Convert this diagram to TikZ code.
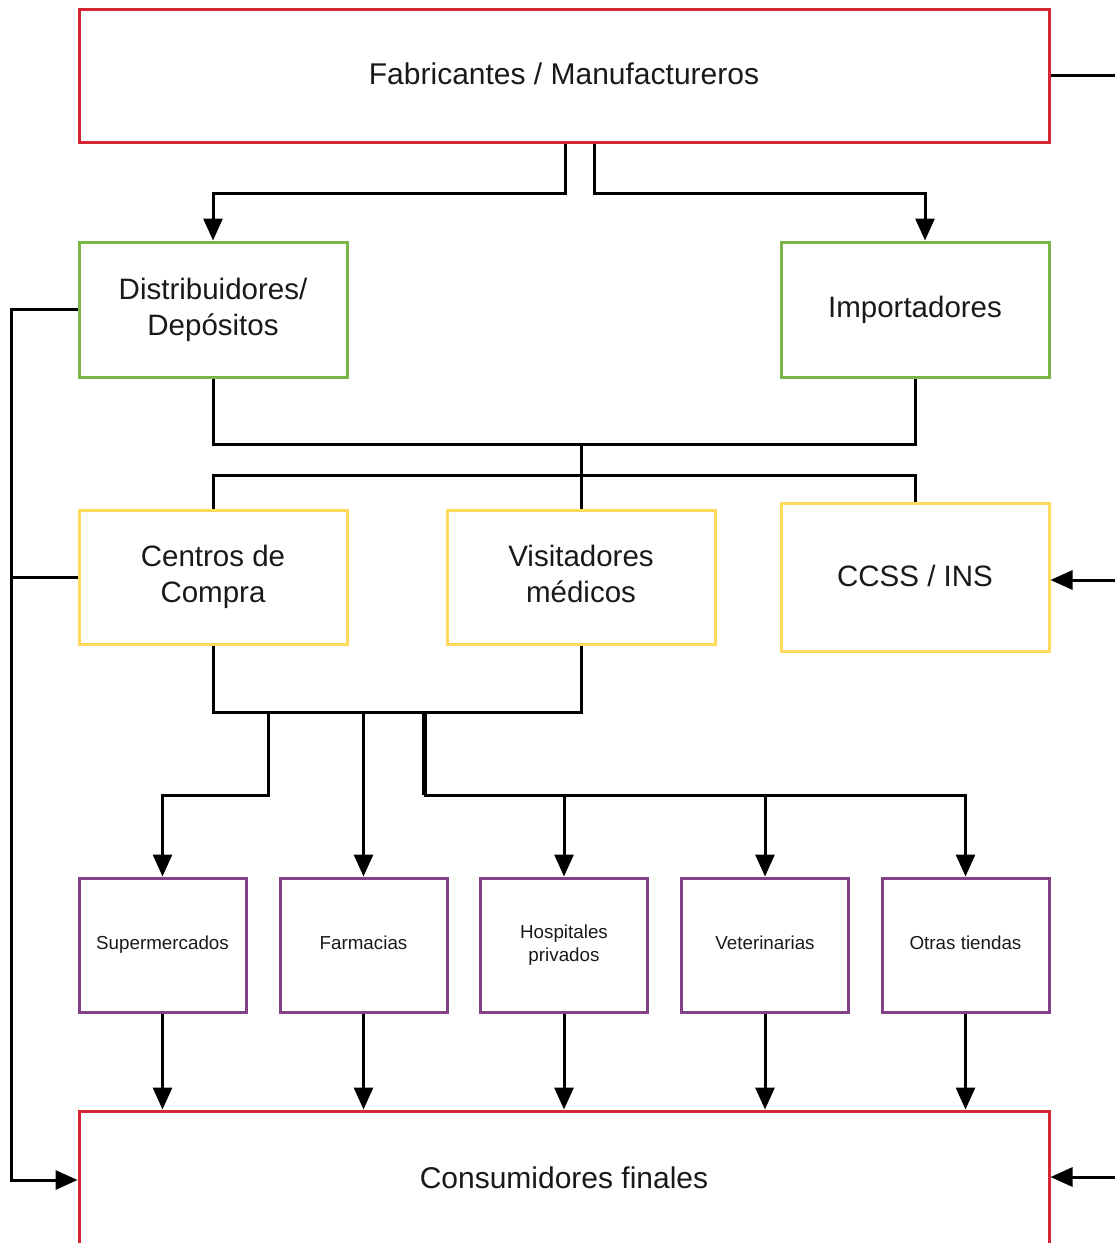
\documentclass[tikz,border=0pt]{standalone}
\usepackage{fontspec}
\setmainfont{Liberation Sans}
\usetikzlibrary{arrows.meta,calc}
\definecolor{cred}{RGB}{214,38,52}
\definecolor{cgreen}{RGB}{122,182,72}
\definecolor{cyellow}{RGB}{255,218,92}
\definecolor{cpurple}{RGB}{131,65,135}
\begin{document}
\begin{tikzpicture}[x=1pt,y=-1pt,
  box/.style={draw, line width=3pt, rectangle, align=center, inner sep=0pt, text=black!90},
  redbox/.style={box, draw=cred, font=\fontsize{30}{36}\selectfont},
  greenbox/.style={box, draw=cgreen, minimum width=268pt, minimum height=135pt, font=\fontsize{29.5}{36}\selectfont},
  yelbox/.style={box, draw=cyellow, minimum width=268pt, minimum height=134pt, font=\fontsize{29.5}{36}\selectfont},
  purbox/.style={box, draw=cpurple, minimum width=167pt, minimum height=134pt, font=\fontsize{18.8}{23}\selectfont},
  conn/.style={line width=3pt, draw=black},
  arr/.style={conn, -{Triangle[length=22pt,width=19pt]}}]
\useasboundingbox (0,0) rectangle (1115,1243);
\clip (0,0) rectangle (1115,1243);
% nodes
\node[redbox, minimum width=970pt, minimum height=133pt] (fab) at (564,75.5) {\raisebox{4pt}{Fabricantes / Manufactureros}};
\node[greenbox] (dist) at (213,309.5) {Distribuidores/\\Depósitos};
\node[greenbox] (imp) at (915,309.5) {Importadores\vphantom{p}};
\node[yelbox] (cen) at (213,577) {Centros de\\Compra};
\node[yelbox] (vis) at (581,577) {Visitadores\\m\smash{é}dicos\vphantom{p}};
\node[yelbox, minimum height=148pt] (ccss) at (915,577) {\raisebox{3pt}{CCSS / INS}};
\node[purbox] (sup) at (162.5,945) {Supermercados};
\node[purbox] (far) at (363.5,945) {Farmacias\vphantom{p}};
\node[purbox] (hos) at (564,945) {Hospitales\\privados};
\node[purbox] (vet) at (765,945) {Veterinarias\vphantom{p}};
\node[purbox] (otr) at (965.5,945) {Otras tiendas\vphantom{p}};
\node[redbox, minimum width=970pt, minimum height=138pt] (cons) at (564,1180) {\raisebox{4pt}{Consumidores finales}};
% free-end coordinates
\coordinate (fr) at (1115,75.5);
\coordinate (cr) at (1115,580);
\coordinate (kr) at (1115,1177);
\coordinate (lb) at (11,1180);
\coordinate (j1) at (581,444);
\coordinate (j2) at (424,712);
\coordinate (b1) at (268,712);
% connectors
\draw[arr] ([xshift=1pt]fab.south) -- ++(0,50) -| (dist.north);
\draw[arr] ([xshift=30pt]fab.south) -- ++(0,50) -| ([xshift=10pt]imp.north);
\draw[conn] (fab.east) -- (fr);
\draw[conn] (dist.south) |- (j1) -| (imp.south);
\draw[conn] (j1) -- (vis.north);
\draw[conn] (cen.north) -- ++(0,-33) -| (ccss.north);
\draw[arr] (dist.west) -| (lb) -- (cons.west |- lb);
\draw[conn] (cen.west) -- (cen.west -| lb);
\draw[arr] (cr) -- (ccss.east |- cr);
\draw[arr] (kr) -- (cons.east |- kr);
\draw[conn] (cen.south) |- (j2) -| (vis.south);
\draw[arr] (b1) -- ++(0,83) -| (sup.north);
\draw[arr] (far.north |- j2) -- (far.north);
\draw[conn, line width=5pt] (j2) -- ++(0,83) coordinate (j3);
\draw[arr] (j3) -| (hos.north);
\draw[arr] (j3) -| (vet.north);
\draw[arr] (j3) -| (otr.north);
\foreach \n in {sup,far,hos,vet,otr}
  \draw[arr] (\n.south) -- (\n.south |- cons.north);
\end{tikzpicture}
\end{document}
